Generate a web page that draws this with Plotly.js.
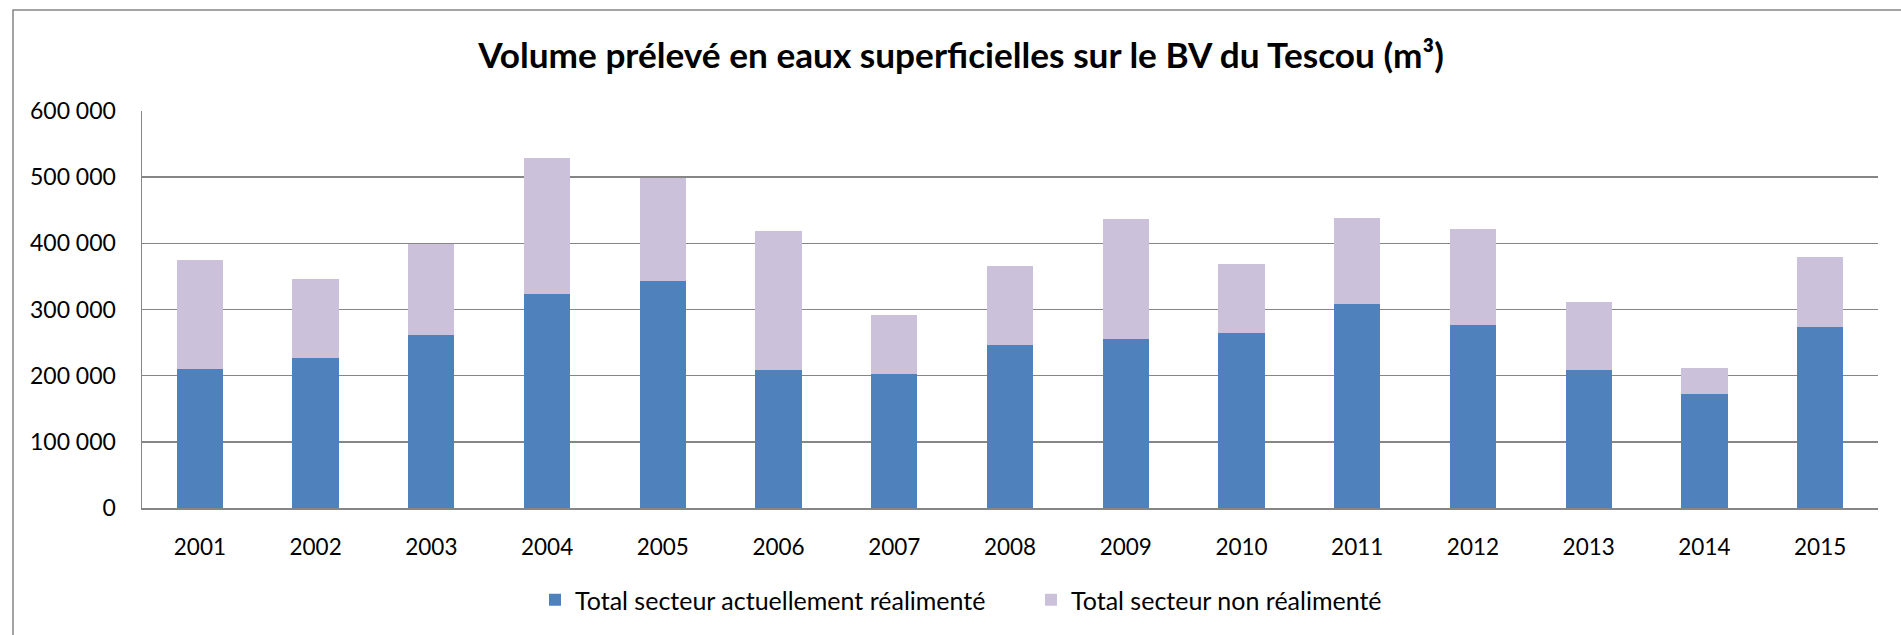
<!DOCTYPE html>
<html>
<head>
<meta charset="utf-8">
<script src="https://cdn.plot.ly/plotly-3.0.1.min.js"></script>
<style>
  html, body { margin: 0; padding: 0; background: #fff; }
  #chart { width: 1901px; height: 635px; }
</style>
</head>
<body>
<div id="chart"></div>
<script>
const years = ['2001','2002','2003','2004','2005','2006','2007','2008','2009','2010','2011','2012','2013','2014','2015'];
const realimente = [210000, 226000, 262000, 324000, 343000, 208000, 203000, 247000, 256000, 264000, 309000, 276000, 209000, 172000, 273000];
const nonRealimente = [165000, 120000, 137000, 205000, 156000, 210000, 88000, 119000, 181000, 105000, 129000, 145000, 102000, 39000, 107000];
const seriesNames = ['Total secteur actuellement réalimenté', 'Total secteur non réalimenté'];
const yTickVals = [0, 100000, 200000, 300000, 400000, 500000, 600000];
const yTickText = ['0', '100 000', '200 000', '300 000', '400 000', '500 000', '600 000'];
const titleText = 'Volume prélevé en eaux superficielles sur le BV du Tescou (m³)';

const W = 1901, H = 635;
const M = { l: 142, r: 23, t: 111, b: 127 };
const pw = W - M.l - M.r, ph = H - M.t - M.b;
const px2x = p => (p - M.l) / pw;
const py2y = p => (H - M.b - p) / ph;

const gray = '#868686';
const font = 'Lato, "Open Sans", sans-serif';

const traces = [
  { type: 'bar', x: years, y: realimente, name: seriesNames[0],
    marker: { color: '#4F81BD' }, hoverinfo: 'x+y' },
  { type: 'bar', x: years, y: nonRealimente, name: seriesNames[1],
    marker: { color: '#CCC1DA' }, hoverinfo: 'x+y' }
];

const layout = {
  width: W, height: H,
  margin: M,
  paper_bgcolor: '#fff', plot_bgcolor: '#fff',
  barmode: 'stack', bargap: 0.6,
  font: { family: font, size: 23, color: '#000' },
  title: { text: '<b>' + titleText + '</b>', x: 961 / W, xanchor: 'center',
           y: 1 - 56 / H, yanchor: 'middle',
           font: { family: font, size: 35.2, color: '#000' } },
  xaxis: { type: 'category', showgrid: false, showline: true, linecolor: gray, linewidth: 1.5,
           ticks: '', ticklabelstandoff: 18, zeroline: false,
           tickfont: { family: font, size: 22.5, color: '#000' } },
  yaxis: { range: [0, 600000], tickvals: yTickVals, ticktext: yTickText,
           showgrid: true, gridcolor: gray, gridwidth: 1.5,
           showline: true, linecolor: gray, linewidth: 1.5, zeroline: false,
           ticks: '', ticklabelstandoff: 20,
           tickfont: { family: font, size: 23, color: '#000' } },
  showlegend: true,
  legend: { orientation: 'h', x: px2x(535), xanchor: 'left', y: py2y(600), yanchor: 'middle',
            entrywidth: 451, entrywidthmode: 'pixels',
            font: { family: font, size: 25, color: '#000' }, traceorder: 'normal',
            bgcolor: 'rgba(0,0,0,0)' },
  shapes: [
    { type: 'rect', xref: 'paper', yref: 'paper',
      x0: px2x(13), x1: px2x(1915), y0: py2y(10), y1: py2y(660),
      line: { color: gray, width: 1.5 }, fillcolor: 'rgba(0,0,0,0)', layer: 'below' }
  ]
};

Plotly.newPlot('chart', traces, layout, { displayModeBar: false, staticPlot: true });
</script>
</body>
</html>
